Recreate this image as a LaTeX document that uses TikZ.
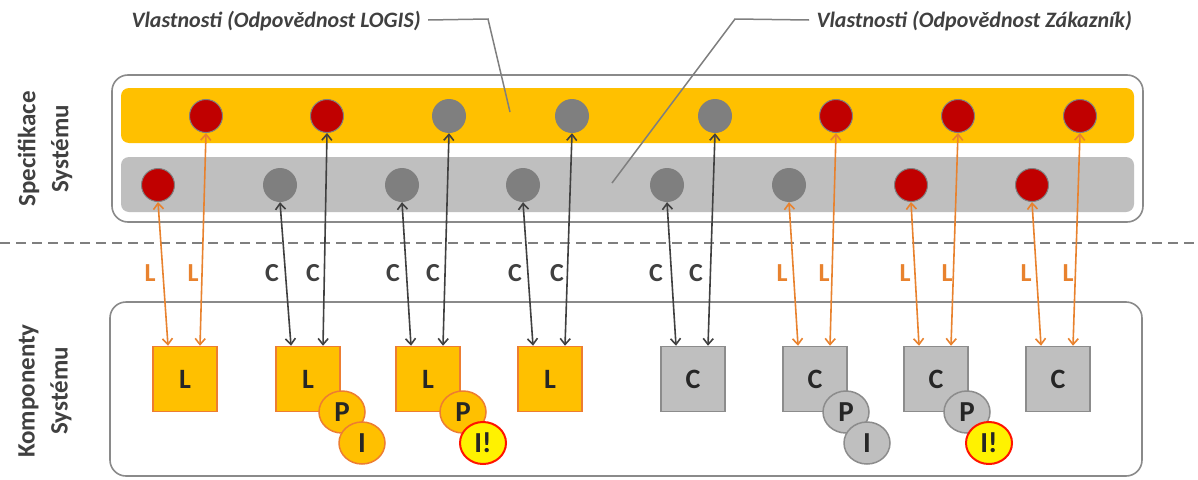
\documentclass[tikz,border=0pt]{standalone}
\usepackage{fontspec}
\setmainfont{Carlito}
\usetikzlibrary{arrows.meta,shapes.geometric,calc}
\definecolor{cyel}{HTML}{FFC000}
\definecolor{corg}{HTML}{ED7D31}
\definecolor{carr}{HTML}{E8822E}
\definecolor{cdark}{HTML}{404040}
\definecolor{cgband}{HTML}{BFBFBF}
\definecolor{cgdot}{HTML}{7F7F7F}
\definecolor{cred}{HTML}{C00000}
\definecolor{cgline}{HTML}{8C8C8C}
\definecolor{ctxt}{HTML}{262626}
\definecolor{cframe}{HTML}{8A8A8A}
\tikzset{
  frame/.style={draw=cframe,line width=1.6pt,rounded corners=16pt,fill=white},
  band/.style={rounded corners=8pt},
  reddot/.style={circle,minimum size=33pt,inner sep=0pt,fill=cred,draw=cgdot,line width=1pt},
  graydot/.style={circle,minimum size=34pt,inner sep=0pt,fill=cgdot},
  ysq/.style={rectangle,minimum width=64pt,minimum height=65pt,inner sep=0pt,fill=cyel,draw=corg,line width=1.5pt,font=\bfseries\fontsize{28}{30}\selectfont,text=ctxt},
  gsq/.style={rectangle,minimum width=64pt,minimum height=65pt,inner sep=0pt,fill=cgband,draw=cgline,line width=1.5pt,font=\bfseries\fontsize{28}{30}\selectfont,text=ctxt},
  yball/.style={ellipse,minimum width=46pt,minimum height=42pt,inner sep=0pt,fill=cyel,draw=corg,line width=1.5pt,font=\bfseries\fontsize{29}{31}\selectfont,text=ctxt},
  gball/.style={ellipse,minimum width=46pt,minimum height=42pt,inner sep=0pt,fill=cgband,draw=cgline,line width=1.5pt,font=\bfseries\fontsize{29}{31}\selectfont,text=ctxt},
  warnball/.style={ellipse,minimum width=46pt,minimum height=42pt,inner sep=0pt,fill=yellow,draw=red!85!orange,line width=2pt,font=\bfseries\fontsize{29}{31}\selectfont,text=ctxt},
  oarr/.style={draw=carr,line width=1.6pt,{Straight Barb[length=6pt,width=10pt]}-{Straight Barb[length=6pt,width=10pt]}},
  darr/.style={draw=cdark,line width=1.6pt,{Straight Barb[length=6pt,width=10pt]}-{Straight Barb[length=6pt,width=10pt]}},
  olab/.style={font=\bfseries\fontsize{26}{28}\selectfont,text=carr},
  dlab/.style={font=\bfseries\fontsize{26}{28}\selectfont,text=cdark},
  sidelab/.style={font=\bfseries\fontsize{25}{33}\selectfont,text=cdark,align=center,rotate=90},
  toplab/.style={font=\bfseries\itshape\fontsize{22}{24}\selectfont,text=cdark},
  leader/.style={draw=cgdot,line width=1.5pt}
}
\begin{document}
\begin{tikzpicture}[x=1pt,y=-1pt]
\useasboundingbox (0,0) rectangle (1198,479);
% frames
\draw[frame] (112,75) rectangle (1143,222);
\draw[frame] (110,302) rectangle (1142,476);
\fill[cyel,band] (121,88) rectangle (1134,143);
\fill[cgband,band] (121,157) rectangle (1134,212);
% dashed separator
\draw[cgdot,line width=1.8pt,dash pattern=on 10pt off 6pt] (0,243) -- (1198,243);
% side labels
\node[sidelab] (spec) at (45,149) {Specifikace\\Systému};
\node[sidelab] (komp) at (45,391) {Komponenty\\Systému};
% top labels and leaders
\node[toplab,anchor=west] (tl1) at (128,21) {Vlastnosti (Odpovědnost LOGIS)};
\node[toplab,anchor=west] (tl2) at (813,21) {Vlastnosti (Odpovědnost Zákazník)};
\coordinate (lp1) at (510,112);
\coordinate (lp2) at (612,183);
\draw[leader] (tl1.east) ++(4pt,-1) -- (488,19) -- (lp1);
\draw[leader] (tl2.west) ++(-4pt,-1) -- (735,19) -- (lp2);
% top band dots
\node[reddot] (t1) at (206,116) {};
\node[reddot] (t2) at (327,116) {};
\node[graydot] (t3) at (449,116) {};
\node[graydot] (t4) at (572,116) {};
\node[graydot] (t5) at (715,116) {};
\node[reddot] (t6) at (836,116) {};
\node[reddot] (t7) at (958,116) {};
\node[reddot] (t8) at (1080,116) {};
% bottom band dots
\node[reddot] (b1) at (158,185) {};
\node[graydot] (b2) at (280,185) {};
\node[graydot] (b3) at (402,185) {};
\node[graydot] (b4) at (523,185) {};
\node[graydot] (b5) at (667,185) {};
\node[graydot] (b6) at (789,185) {};
\node[reddot] (b7) at (911,185) {};
\node[reddot] (b8) at (1032,185) {};
% components
\node[ysq] (s1) at (185,379) {L};
\node[ysq] (s2) at (308,379) {L};
\node[ysq] (s3) at (428,379) {L};
\node[ysq] (s4) at (550,379) {L};
\node[gsq] (s5) at (693,379) {C};
\node[gsq] (s6) at (815,379) {C};
\node[gsq] (s7) at (936,379) {C};
\node[gsq] (s8) at (1058,379) {C};
\node[yball] (p2) at (342,412) {P};
\node[yball] (i2) at (362,443) {I};
\node[yball] (p3) at (463,412) {P};
\node[warnball] (i3) at (483,443) {I!};
\node[gball] (p6) at (846,412) {P};
\node[gball] (i6) at (867,443) {I};
\node[gball] (p7) at (967,412) {P};
\node[warnball] (i7) at (989,443) {I!};
% arrows
\draw[oarr] (b1.south) -- ($(s1.north)+(-17,0)$);
\draw[oarr] (t1.south) -- ($(s1.north)+(15,0)$);
\draw[darr] (b2.south) -- ($(s2.north)+(-17,0)$);
\draw[darr] (t2.south) -- ($(s2.north)+(15,0)$);
\draw[darr] (b3.south) -- ($(s3.north)+(-17,0)$);
\draw[darr] (t3.south) -- ($(s3.north)+(15,0)$);
\draw[darr] (b4.south) -- ($(s4.north)+(-17,0)$);
\draw[darr] (t4.south) -- ($(s4.north)+(15,0)$);
\draw[darr] (b5.south) -- ($(s5.north)+(-17,0)$);
\draw[darr] (t5.south) -- ($(s5.north)+(15,0)$);
\draw[oarr] (b6.south) -- ($(s6.north)+(-17,0)$);
\draw[oarr] (t6.south) -- ($(s6.north)+(15,0)$);
\draw[oarr] (b7.south) -- ($(s7.north)+(-17,0)$);
\draw[oarr] (t7.south) -- ($(s7.north)+(15,0)$);
\draw[oarr] (b8.south) -- ($(s8.north)+(-17,0)$);
\draw[oarr] (t8.south) -- ($(s8.north)+(15,0)$);
% arrow labels
\node[olab] (la1) at (150,273) {L};
\node[olab] (la2) at (193,273) {L};
\node[dlab] (la3) at (272,273) {C};
\node[dlab] (la4) at (313,273) {C};
\node[dlab] (la5) at (393,273) {C};
\node[dlab] (la6) at (433,273) {C};
\node[dlab] (la7) at (515,273) {C};
\node[dlab] (la8) at (557,273) {C};
\node[dlab] (la9) at (656,273) {C};
\node[dlab] (la10) at (696,273) {C};
\node[olab] (la11) at (782,273) {L};
\node[olab] (la12) at (824,273) {L};
\node[olab] (la13) at (905,273) {L};
\node[olab] (la14) at (947,273) {L};
\node[olab] (la15) at (1026,273) {L};
\node[olab] (la16) at (1068,273) {L};
\end{tikzpicture}
\end{document}
